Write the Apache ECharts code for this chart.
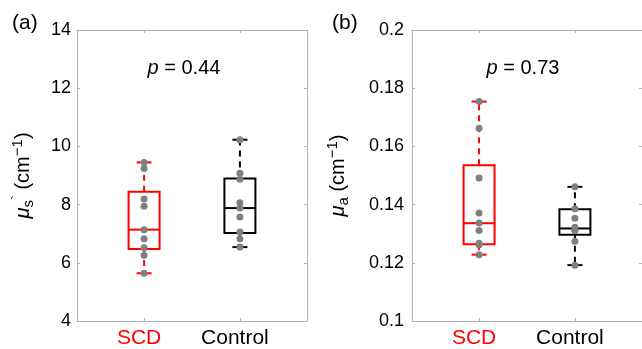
<!DOCTYPE html>
<html>
<head>
<meta charset="utf-8">
<script src="https://cdn.jsdelivr.net/npm/echarts@6/dist/echarts.min.js"></script>
<style>
  html, body { margin: 0; padding: 0; background: #ffffff; }
  #chart { width: 642px; height: 349px; }
</style>
</head>
<body>
<div id="chart"></div>
<script>
// Box plots of scattering / absorption coefficients, SCD vs Control.

const groups = ['SCD', 'Control'];
const groupColors = ['#ff0000', '#000000'];

// panel (a): mu_s' (cm^-1) — box stats [min, q1, median, q3, max]
const scatA_SCD = [9.45, 9.24, 8.19, 7.94, 7.14, 6.83, 6.52, 6.26, 5.64];
const scatA_Ctrl = [10.23, 9.08, 8.87, 8.06, 7.88, 7.57, 7.06, 6.83, 6.54];
const boxA_SCD = [5.64, 6.47, 7.14, 8.44, 9.45];
const boxA_Ctrl = [6.54, 7.02, 7.88, 8.90, 10.23];

// panel (b): mu_a (cm^-1)
const scatB_SCD = [0.1754, 0.1662, 0.1491, 0.1371, 0.1337, 0.1311, 0.1267, 0.1262, 0.1228];
const scatB_Ctrl = [0.1461, 0.1386, 0.1353, 0.1322, 0.1312, 0.1311, 0.1274, 0.1192];
const boxB_SCD = [0.1228, 0.1264, 0.1336, 0.1535, 0.1754];
const boxB_Ctrl = [0.1192, 0.1296, 0.1318, 0.1384, 0.1461];

const yTicksA = [4, 14, 2];
const yTicksB = [0.1, 0.2, 0.02];
const pValues = ['0.44', '0.73'];

const FONT = 'Liberation Sans, Arial, Helvetica, sans-serif';
const AXIS_GREY = '#b5b5b5';
const POINT_GREY = '#808080';

const chart = echarts.init(document.getElementById('chart'));

// draw one MATLAB-style box: solid box + median, dashed whiskers, solid caps
function boxRenderer(color) {
    return function (params, api) {
        const x = api.value(0);
        const lo = api.coord([x, api.value(1)]);
        const q1 = api.coord([x, api.value(2)]);
        const md = api.coord([x, api.value(3)]);
        const q3 = api.coord([x, api.value(4)]);
        const hi = api.coord([x, api.value(5)]);
        const cx = lo[0];
        const hw = 15.5, cw = 7.5;
        const solid = { stroke: color, lineWidth: 2, fill: null };
        const dashed = { stroke: color, lineWidth: 2, lineDash: [6, 5], fill: null };
        return {
            type: 'group',
            children: [
                { type: 'line', shape: { x1: cx, y1: q3[1], x2: cx, y2: hi[1] }, style: dashed },
                { type: 'line', shape: { x1: cx, y1: q1[1], x2: cx, y2: lo[1] }, style: dashed },
                { type: 'line', shape: { x1: cx - cw, y1: hi[1], x2: cx + cw, y2: hi[1] }, style: solid },
                { type: 'line', shape: { x1: cx - cw, y1: lo[1], x2: cx + cw, y2: lo[1] }, style: solid },
                { type: 'rect', shape: { x: cx - hw, y: q3[1], width: hw * 2, height: q1[1] - q3[1] }, style: solid },
                { type: 'line', shape: { x1: cx - hw, y1: md[1], x2: cx + hw, y2: md[1] }, style: solid }
            ]
        };
    };
}

function xAxes(gridIndex) {
    const base = {
        type: 'value', gridIndex: gridIndex, min: 0.3, max: 2.7,
        splitLine: { show: false },
        axisLine: { show: true, lineStyle: { color: AXIS_GREY, width: 1 } },
        axisTick: { show: true, inside: true, length: 3, customValues: [1, 2], lineStyle: { color: AXIS_GREY } }
    };
    return [
        Object.assign({}, base, {
            position: 'bottom',
            axisLabel: {
                customValues: [1, 2],
                margin: 7,
                padding: [0, 10, 0, 0],
                formatter: v => (v === 1 ? '{r|' + groups[0] + '}' : '{k|' + groups[1] + '}'),
                rich: {
                    r: { color: groupColors[0], fontSize: 21, fontFamily: FONT },
                    k: { color: groupColors[1], fontSize: 21, fontFamily: FONT }
                }
            }
        }),
        Object.assign({}, base, { position: 'top', axisLabel: { show: false } })
    ];
}

function yAxes(gridIndex, ticks, name, labelMargin, nameGap, fmt) {
    const base = {
        type: 'value', gridIndex: gridIndex,
        min: ticks[0], max: ticks[1], interval: ticks[2],
        splitLine: { show: false },
        axisLine: { show: true, lineStyle: { color: AXIS_GREY, width: 1 } },
        axisTick: { show: true, inside: true, length: 3, lineStyle: { color: AXIS_GREY } }
    };
    return [
        Object.assign({}, base, {
            position: 'left',
            axisLabel: { margin: labelMargin, color: '#000', fontSize: 18, fontFamily: FONT, formatter: fmt },
            name: name,
            nameLocation: 'middle',
            nameRotate: 90,
            nameGap: nameGap,
            nameTextStyle: {
                color: '#000', fontFamily: FONT, fontSize: 20,
                rich: {
                    n: { fontSize: 20, lineHeight: 26, fontFamily: FONT, color: '#000', verticalAlign: 'middle' },
                    mu: { fontSize: 20, lineHeight: 26, fontFamily: FONT, fontStyle: 'italic', color: '#000', verticalAlign: 'middle' },
                    sub: { fontSize: 15, fontFamily: FONT, color: '#000', verticalAlign: 'bottom' },
                    sup: { fontSize: 15, fontFamily: FONT, color: '#000', verticalAlign: 'top' }
                }
            }
        }),
        Object.assign({}, base, { position: 'right', axisLabel: { show: false } })
    ];
}

const pts = arr => arr.map(v => [1, v]);
const pts2 = arr => arr.map(v => [2, v]);

chart.setOption({
    animation: false,
    backgroundColor: '#ffffff',
    grid: [
        { left: 77, top: 30, width: 230, height: 292 },
        { left: 412, top: 30, width: 232, height: 292 }
    ],
    xAxis: xAxes(0).concat(xAxes(1)),
    yAxis: yAxes(0, yTicksA, '{mu|μ}{sub|s}{sup|`} {n|(cm}{sup|−1}{n|)}', 6, 41, v => String(v))
        .concat(yAxes(1, yTicksB, '{mu|μ}{sub|a} {n|(cm}{sup|−1}{n|)}', 8, 61, v => String(+v.toFixed(2)))),
    series: [
        { type: 'custom', xAxisIndex: 0, yAxisIndex: 0, renderItem: boxRenderer(groupColors[0]), data: [[1].concat(boxA_SCD)], z: 2 },
        { type: 'custom', xAxisIndex: 0, yAxisIndex: 0, renderItem: boxRenderer(groupColors[1]), data: [[2].concat(boxA_Ctrl)], z: 2 },
        { type: 'scatter', xAxisIndex: 0, yAxisIndex: 0, symbolSize: 7, itemStyle: { color: POINT_GREY, opacity: 1 },
          data: pts(scatA_SCD).concat(pts2(scatA_Ctrl)), z: 3 },
        { type: 'custom', xAxisIndex: 2, yAxisIndex: 2, renderItem: boxRenderer(groupColors[0]), data: [[1].concat(boxB_SCD)], z: 2 },
        { type: 'custom', xAxisIndex: 2, yAxisIndex: 2, renderItem: boxRenderer(groupColors[1]), data: [[2].concat(boxB_Ctrl)], z: 2 },
        { type: 'scatter', xAxisIndex: 2, yAxisIndex: 2, symbolSize: 7, itemStyle: { color: POINT_GREY, opacity: 1 },
          data: pts(scatB_SCD).concat(pts2(scatB_Ctrl)), z: 3 }
    ],
    graphic: [
        { type: 'text', left: 12, top: 13, style: { text: '(a)', fontSize: 21, fontFamily: FONT, fill: '#000' } },
        { type: 'text', left: 332, top: 13, style: { text: '(b)', fontSize: 21, fontFamily: FONT, fill: '#000' } },
        { type: 'text', x: 184, y: 68, style: {
            text: '{i|p} = ' + pValues[0], align: 'center', verticalAlign: 'middle',
            fontSize: 20, fontFamily: FONT, fill: '#000',
            rich: { i: { fontStyle: 'italic', fontSize: 20, fontFamily: FONT, fill: '#000' } } } },
        { type: 'text', x: 523, y: 68, style: {
            text: '{i|p} = ' + pValues[1], align: 'center', verticalAlign: 'middle',
            fontSize: 20, fontFamily: FONT, fill: '#000',
            rich: { i: { fontStyle: 'italic', fontSize: 20, fontFamily: FONT, fill: '#000' } } } }
    ]
});
</script>
</body>
</html>
